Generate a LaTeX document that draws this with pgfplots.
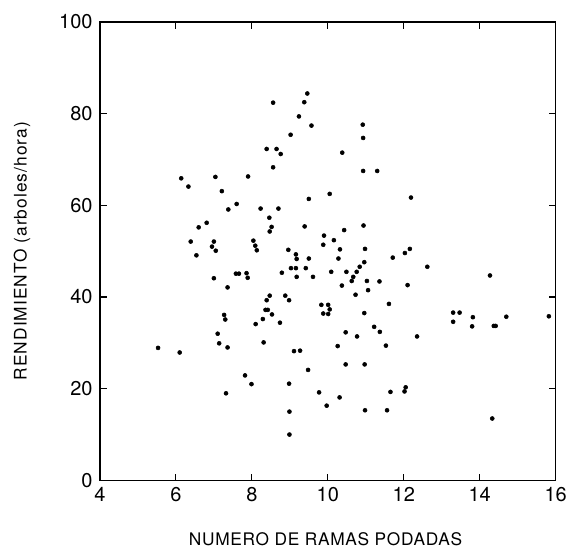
\documentclass[border=0pt]{standalone}
\usepackage{fontspec}
\setmainfont{TeX Gyre Heros}
\usepackage{pgfplots}
\pgfplotsset{compat=1.18}
\begin{document}
\begin{tikzpicture}
\begin{axis}[
  name=ax,
  width=342pt, height=344pt, scale only axis,
  xmin=4, xmax=16, ymin=0, ymax=100,
  xtick={4,6,...,16}, ytick={0,20,...,100},
  tick pos=both, tick align=inside,
  major tick length=5pt,
  axis line style={line width=1pt, black},
  every tick/.style={line width=0.8pt, black},
  /pgf/number format/assume math mode=true,
  ticklabel style={font=\fontsize{15}{18}\selectfont},
  xticklabel style={yshift=-2pt},
  yticklabel style={xshift=-2pt},
  xlabel={NUMERO DE RAMAS PODADAS},
  ylabel={RENDIMIENTO (arboles/hora)},
  xlabel style={font=\fontsize{13}{15}\selectfont\addfontfeatures{LetterSpace=4}, at={(axis description cs:0.495,-0.113)}, anchor=north, inner sep=0pt},
  ylabel style={font=\fontsize{13}{15}\selectfont\addfontfeatures{LetterSpace=6}, at={(axis description cs:-0.171,0.5)}, anchor=center, inner sep=0pt},
]
\addplot[only marks, mark=*, mark size=1.5pt, black] table {
x y
5.53 28.9
6.10 27.9
6.14 65.9
6.33 64.1
6.39 52.1
6.54 49.1
6.60 55.2
6.81 56.2
6.95 51.0
7.00 52.1
7.05 50.1
7.00 44.1
7.04 66.2
7.21 63.1
7.10 32.0
7.14 29.9
7.27 36.1
7.30 35.1
7.36 29.0
7.32 19.0
7.36 42.1
7.38 59.1
7.60 60.3
7.58 45.1
7.66 45.1
7.86 45.2
7.89 44.2
7.82 22.9
7.99 21.0
7.90 66.3
8.04 52.3
8.09 51.2
8.13 50.2
8.10 34.1
8.23 59.3
8.29 35.2
8.31 30.1
8.36 37.2
8.42 37.2
8.39 39.3
8.39 72.3
8.46 57.3
8.47 54.3
8.47 40.3
8.52 55.3
8.53 36.2
8.56 68.3
8.56 82.4
8.65 72.3
8.70 59.3
8.74 34.4
8.76 71.2
8.79 45.3
8.88 40.3
8.96 50.3
8.98 39.3
8.98 21.1
8.99 15.0
8.99 10.0
9.02 75.4
9.03 46.3
9.11 28.2
9.16 49.3
9.16 46.3
9.18 48.3
9.18 44.4
9.24 79.4
9.27 28.3
9.38 82.5
9.39 55.4
9.42 46.3
9.46 84.4
9.48 24.1
9.50 61.4
9.50 48.4
9.57 77.4
9.61 44.4
9.77 19.2
9.83 38.3
9.88 51.4
9.88 36.4
9.90 53.4
9.97 16.3
10.01 38.3
10.01 36.3
10.05 37.3
10.05 62.5
10.09 45.5
10.16 52.4
10.26 29.3
10.28 48.4
10.31 18.1
10.32 50.4
10.37 42.5
10.38 71.5
10.43 54.6
10.47 32.3
10.47 25.3
10.49 45.5
10.63 43.5
10.67 44.4
10.73 40.5
10.76 45.5
10.77 31.4
10.84 46.6
10.92 77.6
10.93 74.7
10.93 67.5
10.94 55.6
10.96 47.6
10.96 36.5
10.97 25.3
10.98 50.5
10.98 15.3
11.03 43.5
11.06 41.5
11.22 33.5
11.30 67.5
11.36 43.4
11.37 32.4
11.53 29.4
11.56 15.3
11.61 38.5
11.65 19.3
11.71 48.6
12.02 19.4
12.05 20.3
12.03 49.6
12.10 42.6
12.16 50.5
12.19 61.7
12.35 31.4
12.62 46.6
13.30 36.6
13.47 36.6
13.30 34.6
13.82 35.6
13.80 33.6
14.27 44.7
14.33 13.5
14.37 33.7
14.42 33.7
14.70 35.7
15.82 35.8
};
\end{axis}
\pgfresetboundingbox
\path[use as bounding box] ([shift={(-75pt,-52pt)}]ax.south west) rectangle ([shift={(10pt,16.5pt)}]ax.north east);
\end{tikzpicture}
\end{document}
